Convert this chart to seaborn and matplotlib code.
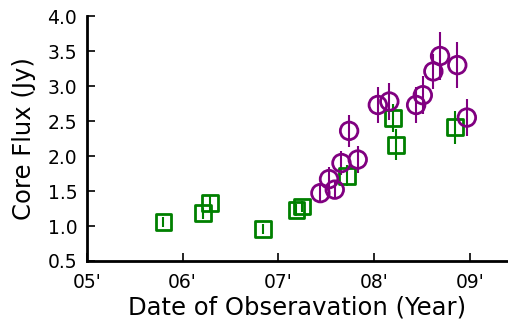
import numpy as np
import pandas as pd
import matplotlib
matplotlib.use("Agg")
import matplotlib.pyplot as plt
import seaborn as sns

# Data
green_x = [2005.80, 2006.21, 2006.29, 2006.84, 2007.19, 2007.25, 2007.72, 2008.20, 2008.23, 2008.85]
green_y = [1.06, 1.18, 1.33, 0.96, 1.23, 1.28, 1.72, 2.54, 2.16, 2.41]
green_err = [0.07, 0.08, 0.12, 0.07, 0.08, 0.08, 0.15, 0.20, 0.22, 0.24]

purple_x = [2007.44, 2007.53, 2007.59, 2007.66, 2007.74, 2007.83, 2008.04, 2008.16,
            2008.44, 2008.51, 2008.62, 2008.69, 2008.87, 2008.97]
purple_y = [1.47, 1.67, 1.52, 1.90, 2.36, 1.95, 2.73, 2.78, 2.73, 2.87, 3.21, 3.43, 3.30, 2.55]
purple_err = [0.13, 0.17, 0.12, 0.17, 0.23, 0.19, 0.26, 0.26, 0.26, 0.27, 0.25, 0.34, 0.33, 0.26]

x_ticks = [2005, 2006, 2007, 2008, 2009]
x_ticklabels = ["05'", "06'", "07'", "08'", "09'"]
y_ticks = [0.5, 1.0, 1.5, 2.0, 2.5, 3.0, 3.5, 4.0]

sns.set_style("ticks")
plt.rcParams['font.family'] = ['DejaVu Sans']
plt.rcParams.update({"text.color": "black", "axes.labelcolor": "black",
                     "xtick.color": "black", "ytick.color": "black"})

fig = plt.figure(figsize=(5.08, 3.23), dpi=100)
ax = fig.add_axes([0.171, 0.192, 0.829, 0.758])

PURPLE = "#800080"
GREEN = "#008000"

ax.errorbar(green_x, green_y, yerr=green_err, fmt='none', ecolor=GREEN, elinewidth=1.5, capsize=0, zorder=2)
ax.errorbar(purple_x, purple_y, yerr=purple_err, fmt='none', ecolor=PURPLE, elinewidth=1.5, capsize=0, zorder=2)

dg = pd.DataFrame({"x": green_x, "y": green_y})
dp = pd.DataFrame({"x": purple_x, "y": purple_y})
sns.scatterplot(data=dg, x="x", y="y", ax=ax, marker="s", s=130, facecolors="none",
                edgecolor=GREEN, linewidth=2.0, zorder=3)
sns.scatterplot(data=dp, x="x", y="y", ax=ax, marker="o", s=160, facecolors="none",
                edgecolor=PURPLE, linewidth=2.0, zorder=3)

ax.set_xlim(2005, 2009.4)
ax.set_ylim(0.5, 4.0)
ax.set_xticks(x_ticks)
ax.set_xticklabels(x_ticklabels)
ax.set_yticks(y_ticks)
ax.set_yticklabels([f"{v:.1f}" for v in y_ticks])
ax.tick_params(direction="in", length=6, width=1.2, labelsize=13.5, colors="black")
ax.tick_params(axis="x", pad=9)
ax.tick_params(axis="y", pad=7)

for s in ["top", "right"]:
    ax.spines[s].set_visible(False)
for s in ["left", "bottom"]:
    ax.spines[s].set_linewidth(2)
    ax.spines[s].set_color("black")

ax.set_xlabel("Date of Obseravation (Year)", fontsize=17.5, labelpad=2, color="black")
ax.set_ylabel("Core Flux (Jy)", fontsize=17.5, labelpad=8, color="black")

fig.savefig("out.png", dpi=100)
